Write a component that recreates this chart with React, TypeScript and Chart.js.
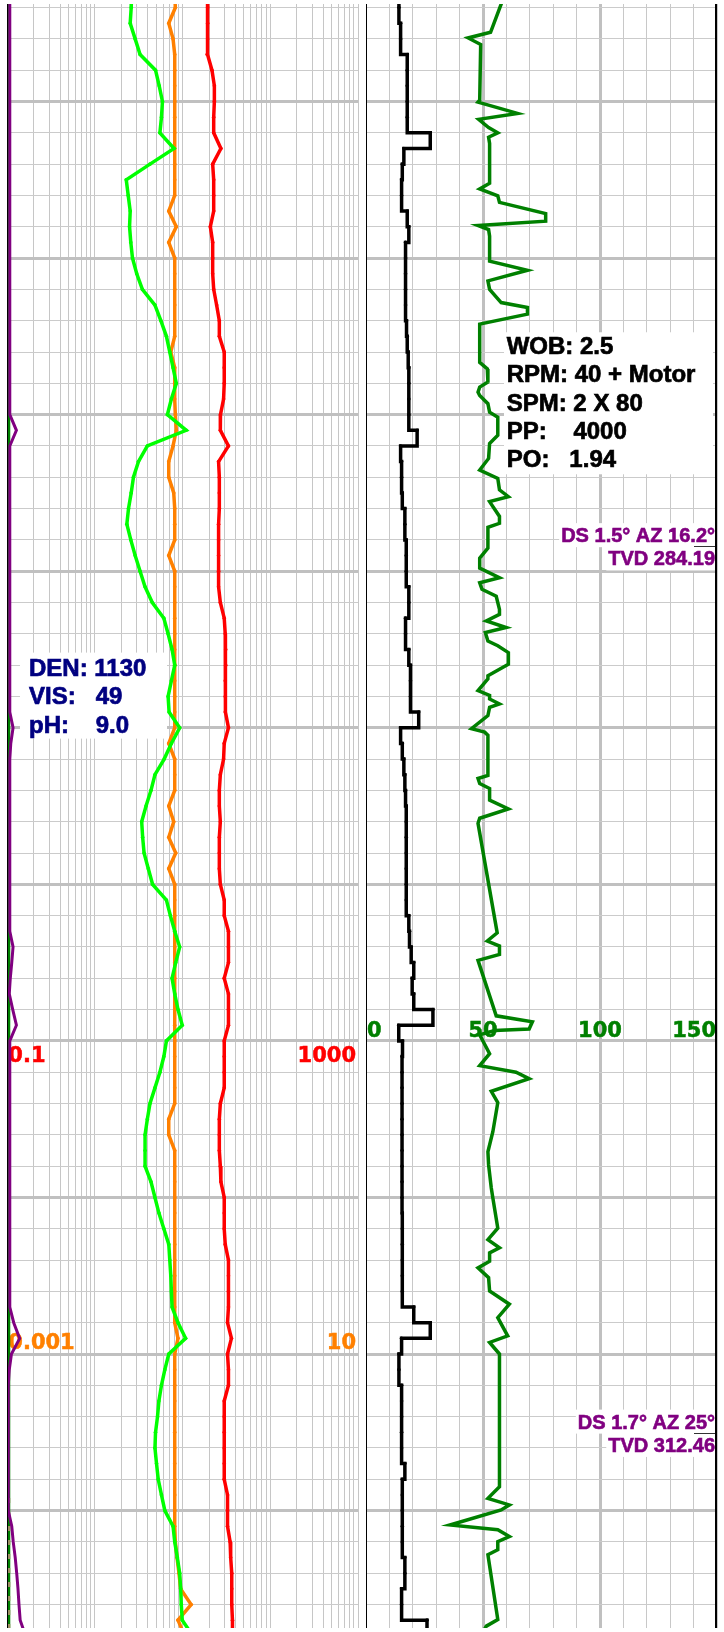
import React, { useEffect, useRef } from "react";
import { Chart, registerables } from "chart.js";

Chart.register(...registerables);

// ---------- depth sampling (m) ----------
const DEPTHS = [
  276.5, 277.0, 277.5, 278.0, 278.5, 279.0, 279.5, 280.0, 280.5, 281.0,
  281.5, 282.0, 282.5, 283.0, 283.5, 284.0, 284.5, 285.0, 285.5, 286.0,
  286.5, 287.0, 287.5, 288.0, 288.5, 289.0, 289.5, 290.0, 290.5, 291.0,
  291.5, 292.0, 292.5, 293.0, 293.5, 294.0, 294.5, 295.0, 295.5, 296.0,
  296.5, 297.0, 297.5, 298.0, 298.5, 299.0, 299.5, 300.0, 300.5, 301.0,
  301.5, 302.0, 302.5, 303.0, 303.5, 304.0, 304.5, 305.0, 305.5, 306.0,
  306.5, 307.0, 307.5, 308.0, 308.5, 309.0, 309.5, 310.0, 310.5, 311.0,
  311.5, 312.0, 312.5, 313.0, 313.5, 314.0, 314.5, 315.0, 315.5, 316.0,
  316.5, 317.0, 317.5, 318.0, 318.5, 319.0, 319.5, 320.0, 320.5, 321.0,
  321.5, 322.0, 322.5, 323.0, 323.5, 324.0, 324.5, 325.0, 325.5, 326.0,
  326.5, 327.0, 327.5, 328.0, 328.5, 329.0,
];
const DEPTH_TOP = 276.886;
const DEPTH_BOTTOM = 328.75;

// ---------- left track (log 0.1 - 1000) ----------
const RED_CURVE = [
  19.3, 19.3, 19.3, 19.3, 19.0, 21.6, 23.0, 23.0, 22.6, 22.6,
  27.3, 22.0, 22.6, 22.6, 22.6, 20.7, 22.0, 22.0, 22.0, 22.6,
  24.4, 26.2, 26.2, 29.8, 29.8, 29.8, 29.3, 27.0, 26.9, 33.3,
  25.7, 26.2, 26.2, 26.2, 25.7, 25.7, 25.7, 25.7, 25.7, 26.9,
  29.8, 30.6, 31.0, 31.0, 30.6, 30.6, 30.6, 33.3, 29.8, 29.3,
  26.9, 26.2, 26.2, 26.9, 26.2, 26.2, 26.2, 26.9, 29.8, 29.8,
  33.3, 33.3, 33.3, 29.8, 33.3, 33.3, 33.3, 29.8, 29.8, 29.8,
  29.8, 26.9, 26.2, 26.2, 26.2, 26.9, 27.3, 29.8, 29.8, 29.8,
  30.6, 33.3, 33.3, 33.3, 33.3, 32.5, 36.0, 32.5, 33.3, 33.3,
  29.8, 29.8, 29.8, 29.8, 29.8, 29.8, 32.5, 32.5, 32.5, 34.8,
  35.3, 36.3, 36.3, 36.3, 37.0, 37.0,
];
const LIME_CURVE = [
  2.63, 2.589, 2.522, 2.873, 3.271, 4.906, 5.402, 5.884, 5.732, 5.502,
  7.977, 4.241, 2.274, 2.394, 2.522, 2.48, 2.562, 2.678, 2.995, 3.472,
  4.831, 5.643, 6.53, 7.134, 7.772, 8.469, 7.436, 6.702, 10.98, 3.955,
  3.13, 2.748, 2.589, 2.413, 2.309, 2.562, 2.873, 3.271, 3.725, 4.503,
  6.102, 6.825, 7.572, 8.124, 7.436, 6.825, 7.005, 9.251, 7.436, 6.152,
  4.831, 4.353, 3.823, 3.41, 3.499, 3.629, 4.059, 4.538, 6.53, 7.245,
  8.124, 9.251, 8.337, 7.572, 8.124, 8.851, 9.897, 6.53, 6.102, 5.502,
  4.831, 4.241, 3.955, 3.725, 3.725, 3.725, 4.353, 4.831, 5.36, 6.102,
  6.95, 7.134, 7.321, 7.436, 7.572, 8.851, 10.81, 6.95, 6.264, 5.732,
  5.36, 5.168, 4.906, 4.831, 5.035, 5.264, 5.732, 6.264, 7.772, 8.124,
  8.692, 9.251, 9.494, 9.643, 9.897, 13.07,
];
// log 0.001 - 10
const ORANGE_CURVE = [
  0.0812, 0.0825, 0.0694, 0.0777, 0.0812, 0.0812, 0.0812, 0.0812, 0.0812, 0.0812,
  0.0812, 0.0812, 0.0812, 0.0812, 0.0694, 0.0847, 0.0694, 0.0812, 0.0812, 0.0812,
  0.0812, 0.0812, 0.0812, 0.0732, 0.0812, 0.0812, 0.0812, 0.0825, 0.0847, 0.0777,
  0.0694, 0.0694, 0.0791, 0.0812, 0.0812, 0.0812, 0.0694, 0.0812, 0.0812, 0.0812,
  0.0812, 0.0812, 0.0812, 0.0812, 0.0812, 0.0812, 0.0812, 0.0812, 0.0694, 0.0812,
  0.0812, 0.0812, 0.0694, 0.0791, 0.0694, 0.0834, 0.0694, 0.0812, 0.0812, 0.0812,
  0.0812, 0.0812, 0.0812, 0.0812, 0.0812, 0.0812, 0.0812, 0.0812, 0.0812, 0.0812,
  0.0812, 0.0812, 0.0694, 0.0694, 0.0812, 0.0812, 0.0812, 0.0812, 0.0812, 0.0812,
  0.0812, 0.0812, 0.0812, 0.0812, 0.0812, 0.0812, 0.0885, 0.0812, 0.0812, 0.0812,
  0.0812, 0.0812, 0.0812, 0.0812, 0.0812, 0.0812, 0.0812, 0.0812, 0.0812, 0.0825,
  0.0862, 0.0908, 0.0949, 0.125, 0.0885, 0.1054,
];
// linear 0 - 100
const PURPLE_CURVE = [
  0.71, 0.71, 0.71, 0.71, 0.71, 0.71, 0.71, 0.71, 0.71, 0.71,
  0.71, 0.71, 0.71, 0.71, 0.71, 0.71, 0.71, 0.71, 0.71, 0.71,
  0.71, 0.71, 0.71, 0.71, 0.71, 0.71, 0.71, 0.71, 2.6, 0.71,
  0.71, 0.71, 0.71, 0.71, 0.71, 0.71, 0.71, 0.71, 0.71, 0.71,
  0.71, 0.71, 0.71, 0.71, 0.71, 0.71, 0.71, 1.64, 0.99, 0.71,
  0.71, 0.71, 0.71, 0.71, 0.71, 0.71, 0.71, 0.71, 0.71, 0.71,
  0.71, 1.64, 1.27, 0.85, 0.56, 1.55, 2.6, 0.71, 0.71, 0.71,
  0.71, 0.71, 0.71, 0.71, 0.71, 0.71, 0.71, 0.71, 0.71, 0.71,
  0.71, 0.71, 0.71, 0.71, 0.71, 1.83, 3.53, 1.18, 0.56, 0.28,
  0.28, 0.28, 0.28, 0.28, 0.28, 0.28, 0.28, 0.28, 1.27, 1.69,
  2.26, 2.68, 3.05, 3.33, 3.67, 5.22,
];
const GAS_DEPTHS = [276.5, 329.0];
const GAS_VALUES = [0.42, 0.42];
const OLIVE_DEPTHS = [324.6, 329.0];
const OLIVE_VALUES = [0.42, 0.42];

// ---------- right track (linear 0 - 150) ----------
const BLACK_CURVE = [
  14.07, 14.07, 14.79, 14.79, 17.62, 17.62, 17.62, 17.62, 17.62, 27.46,
  16.18, 15.51, 15.21, 15.21, 17.62, 18.3, 16.9, 16.9, 16.9, 16.9,
  16.9, 17.32, 17.62, 18.04, 18.3, 18.3, 18.3, 18.3, 21.85, 14.79,
  15.21, 15.21, 15.51, 16.61, 16.61, 17.2, 17.2, 17.2, 18.3, 18.3,
  16.9, 16.9, 18.3, 19.01, 19.01, 19.01, 22.52, 14.79, 15.51, 16.18,
  16.61, 16.9, 17.2, 17.2, 17.2, 17.2, 17.2, 17.2, 17.2, 18.3,
  18.59, 19.31, 20.41, 19.73, 20.41, 28.6, 14.0, 15.6, 15.4, 15.4,
  15.4, 15.4, 15.4, 15.4, 15.4, 15.4, 15.4, 15.4, 15.51, 15.51,
  15.51, 15.51, 15.51, 15.51, 20.41, 27.46, 15.21, 14.07, 14.07, 15.21,
  15.21, 15.21, 15.21, 15.21, 16.61, 15.51, 15.51, 15.51, 15.51, 15.51,
  16.61, 16.61, 15.21, 15.21, 26.07, 26.07,
];
const GREEN_DEPTHS = [
  276.41, 276.89, 277.79, 277.97, 278.18, 279.96, 280.02, 280.38, 280.57, 280.83,
  281.0, 281.14, 281.34, 282.61, 282.79, 283.01, 283.22, 283.58, 283.82, 283.96,
  284.09, 284.3, 285.1, 285.39, 285.73, 286.0, 286.42, 286.58, 286.79, 287.11,
  288.33, 288.54, 288.96, 289.12, 289.28, 289.39, 289.65, 289.92, 290.08, 290.66,
  290.92, 291.4, 291.77, 292.04, 292.4, 292.62, 292.78, 293.25, 293.47, 293.6,
  294.26, 294.58, 294.9, 295.21, 295.37, 295.58, 295.8, 296.22, 296.38, 296.59,
  296.8, 296.96, 297.23, 297.38, 297.6, 297.97, 298.34, 298.44, 298.81, 298.97,
  299.08, 299.24, 299.35, 299.61, 300.03, 300.14, 300.24, 301.52, 301.62, 301.78,
  301.94, 302.31, 302.59, 302.89, 303.05, 306.55, 306.81, 306.97, 307.24, 307.43,
  309.2, 309.39, 309.62, 309.67, 309.81, 310.41, 310.79, 311.0, 311.21, 311.61,
  311.97, 312.9, 313.54, 313.96, 314.7, 315.02, 315.98, 316.35, 316.61, 316.77,
  317.04, 317.25, 317.56, 317.99, 318.41, 318.84, 319.42, 319.63, 320.0, 324.24,
  324.61, 324.82, 324.98, 325.46, 325.61, 325.83, 325.99, 326.25, 326.41, 328.48,
  328.69, 329.16,
];
const GREEN_CURVE = [
  60.42, 57.76, 53.24, 43.65, 49.01, 48.59, 47.87, 64.78, 48.17, 52.39,
  56.32, 52.39, 52.82, 52.82, 48.59, 56.32, 57.04, 76.78, 76.78, 47.87,
  52.39, 52.82, 52.82, 69.0, 52.1, 52.82, 57.76, 69.0, 69.0, 48.59,
  48.59, 51.85, 52.1, 48.59, 47.87, 48.59, 52.1, 52.82, 56.32, 56.32,
  52.82, 52.39, 48.59, 56.32, 57.04, 60.85, 52.82, 57.04, 57.04, 52.1,
  52.1, 48.59, 48.59, 57.04, 48.59, 49.56, 55.65, 57.04, 57.04, 51.42,
  59.87, 51.0, 52.1, 56.32, 60.85, 60.85, 52.1, 52.1, 47.87, 52.82,
  52.82, 57.04, 52.82, 52.1, 45.08, 50.7, 52.1, 52.1, 47.87, 48.59,
  52.82, 52.82, 60.85, 48.59, 47.87, 56.07, 51.85, 57.04, 57.04, 47.87,
  55.65, 71.11, 69.72, 54.93, 48.59, 52.82, 48.59, 64.1, 69.72, 53.54,
  56.32, 54.21, 52.1, 52.39, 53.54, 54.21, 56.32, 52.1, 57.04, 52.82,
  52.82, 47.87, 52.39, 52.82, 61.27, 56.32, 60.55, 52.82, 57.04, 57.04,
  52.1, 61.27, 57.76, 35.92, 56.32, 61.27, 56.32, 56.32, 52.1, 56.32,
  51.42, 47.75,
];

// ---------- grids / tick labels ----------
const LOG_GRID = [
  0.1, 0.2, 0.3, 0.4, 0.5, 0.6, 0.7, 0.8, 0.9,
  1, 2, 3, 4, 5, 6, 7, 8, 9,
  10, 20, 30, 40, 50, 60, 70, 80, 90,
  100, 200, 300, 400, 500, 600, 700, 800, 900, 1000,
];
const LIN_GRID = [0, 10, 20, 30, 40, 50, 60, 70, 80, 90, 100, 110, 120, 130, 140, 150];
const LIN_MAJOR = [50, 100];
const DEPTH_GRID = Array.from({ length: 52 }, (_, i) => 277 + i);
const RED_SCALE_LABELS = ["0.1", "1000"];
const ORANGE_SCALE_LABELS = ["0.001", "10"];
const GREEN_SCALE_TICKS = [0, 50, 100, 150];
const HEADER_DEPTH_A = 310;
const HEADER_DEPTH_B = 320;

// ---------- annotations ----------
const MUD_LINES = ["DEN: 1130", "VIS:   49", "pH:    9.0"];
const MUD_BOX_DEPTH = 297.6;
const DRILL_LINES = ["WOB: 2.5", "RPM: 40 + Motor", "SPM: 2 X 80", "PP:    4000", "PO:   1.94"];
const DRILL_BOX_DEPTH = 287.37;
const SURVEY_DEPTHS = [294.21, 322.52];
const SURVEY_LINES = [
  ["DS 1.5\u00B0 AZ 16.2\u00B0", "TVD 284.19"],
  ["DS 1.7\u00B0 AZ 25\u00B0", "TVD 312.46"],
];

const FONT_BOX = "bold 24px 'Liberation Sans', Arial, sans-serif";
const FONT_SURVEY = "bold 20px 'Liberation Sans', Arial, sans-serif";
const FONT_SCALE = "bold 21px 'DejaVu Sans', Verdana, sans-serif";

const pts = (ys: number[], xs: number[]) => xs.map((x, i) => ({ x, y: ys[i] }));

// heavier text: fill plus a thin stroke of the same colour
const boldText = (ctx: any, t: string, x: number, y: number, w = 0.7) => {
  ctx.fillText(t, x, y);
  ctx.lineWidth = w;
  ctx.strokeStyle = ctx.fillStyle;
  ctx.strokeText(t, x, y);
};

const depthAxis = () => ({
  type: "linear",
  position: "left",
  reverse: true,
  min: DEPTH_TOP,
  max: DEPTH_BOTTOM,
  afterBuildTicks: (axis: any) => {
    axis.ticks = DEPTH_GRID.map((v) => ({ value: v }));
  },
  ticks: { display: false },
  border: { display: false },
  grid: {
    drawTicks: false,
    color: (c: any) => (c.tick && c.tick.value % 5 === 0 ? "#c0c0c0" : "#cbcbcb"),
    lineWidth: (c: any) => (c.tick && c.tick.value % 5 === 0 ? 3 : 1),
  },
});

const lineDs = (data: any, color: string, axis: string, extra: any = {}) => ({
  data,
  xAxisID: axis,
  yAxisID: "y",
  showLine: true,
  borderColor: color,
  backgroundColor: color,
  borderWidth: 3.5,
  pointRadius: 1.8,
  pointBorderWidth: 0,
  pointBackgroundColor: color,
  tension: 0,
  ...extra,
});

const leftDecor = {
  id: "leftDecor",
  beforeDatasetsDraw(chart: any) {
    const { ctx, chartArea: a, scales } = chart;
    const y = scales.y;
    ctx.save();
    const top = y.getPixelForValue(MUD_BOX_DEPTH);
    ctx.fillStyle = "#ffffff";
    ctx.fillRect(a.left + 12.7, top, 147, 86);
    ctx.fillStyle = "#000080";
    ctx.font = FONT_BOX;
    ctx.textAlign = "left";
    ctx.textBaseline = "alphabetic";
    MUD_LINES.forEach((t, i) => boldText(ctx, t, a.left + 21.7, top + 23.2 + i * 28.5));

    ctx.font = FONT_SCALE;
    const yA = y.getPixelForValue(HEADER_DEPTH_A) + 21;
    ctx.fillStyle = "#ff0000";
    ctx.textAlign = "left";
    boldText(ctx, RED_SCALE_LABELS[0], a.left + 1, yA, 0.5);
    ctx.textAlign = "right";
    boldText(ctx, RED_SCALE_LABELS[1], a.right - 2, yA, 0.5);
    const yB = y.getPixelForValue(HEADER_DEPTH_B) - 5;
    ctx.fillStyle = "#ff8000";
    ctx.textAlign = "left";
    boldText(ctx, ORANGE_SCALE_LABELS[0], a.left + 1, yB, 0.5);
    ctx.textAlign = "right";
    boldText(ctx, ORANGE_SCALE_LABELS[1], a.right - 2, yB, 0.5);
    ctx.restore();
  },
  afterDatasetsDraw(chart: any) {
    const { ctx, chartArea: a } = chart;
    ctx.save();
    ctx.fillStyle = "#000000";
    ctx.fillRect(Math.floor(a.left), a.top, 1, a.bottom - a.top);
    ctx.restore();
  },
};

const rightDecor = {
  id: "rightDecor",
  beforeDatasetsDraw(chart: any) {
    const { ctx, chartArea: a, scales } = chart;
    const y = scales.y;
    const x = scales.x;
    ctx.save();
    // drilling parameters box
    const top = y.getPixelForValue(DRILL_BOX_DEPTH);
    ctx.fillStyle = "#ffffff";
    ctx.fillRect(a.left + 138, top, 209, 142);
    ctx.fillStyle = "#000000";
    ctx.font = FONT_BOX;
    ctx.textAlign = "left";
    ctx.textBaseline = "alphabetic";
    DRILL_LINES.forEach((t, i) => boldText(ctx, t, a.left + 140.7, top + 21.7 + i * 28.3));

    // surveys
    ctx.font = FONT_SURVEY;
    SURVEY_DEPTHS.forEach((d, si) => {
      const ty = y.getPixelForValue(d);
      const lines = SURVEY_LINES[si];
      const bases = [ty - 4.3, ty + 19];
      lines.forEach((t, i) => {
        const w = ctx.measureText(t).width;
        ctx.fillStyle = "#ffffff";
        ctx.fillRect(a.right - 2 - w - 2, bases[i] - 19, w + 4, 24);
      });
      ctx.fillStyle = "#800080";
      ctx.textAlign = "right";
      lines.forEach((t, i) => boldText(ctx, t, a.right - 2, bases[i], 0.6));
      ctx.fillStyle = "#333333";
      ctx.fillRect(a.right - 23, Math.round(ty), 23, 1);
    });

    // scale header
    ctx.font = FONT_SCALE;
    ctx.fillStyle = "#008000";
    const yA = y.getPixelForValue(HEADER_DEPTH_A) - 4;
    GREEN_SCALE_TICKS.forEach((v, i) => {
      let px = x.getPixelForValue(v);
      if (i === 0) {
        ctx.textAlign = "left";
        px += 1;
      } else if (i === GREEN_SCALE_TICKS.length - 1) {
        ctx.textAlign = "right";
        px -= 1;
      } else {
        ctx.textAlign = "center";
      }
      boldText(ctx, String(v), px, yA, 0.5);
    });
    ctx.restore();
  },
  afterDatasetsDraw(chart: any) {
    const { ctx, chartArea: a } = chart;
    ctx.save();
    ctx.fillStyle = "#000000";
    ctx.fillRect(Math.round(a.left), a.top, 1, a.bottom - a.top);
    ctx.fillRect(Math.round(a.right) - 2, a.top, 2, a.bottom - a.top);
    ctx.restore();
  },
};

const baseOptions = (padding: any) => ({
  responsive: false,
  animation: false,
  events: [],
  layout: { padding },
  plugins: { legend: { display: false }, tooltip: { enabled: false } },
});

export default function App() {
  const leftRef = useRef<HTMLCanvasElement>(null);
  const rightRef = useRef<HTMLCanvasElement>(null);

  useEffect(() => {
    const left = new Chart(leftRef.current as HTMLCanvasElement, {
      type: "scatter",
      data: {
        datasets: [
          lineDs(pts(DEPTHS, LIME_CURVE), "#00ff00", "x"),
          lineDs(pts(DEPTHS, ORANGE_CURVE), "#ff8000", "xo"),
          lineDs(pts(DEPTHS, RED_CURVE), "#ff0000", "x"),
          lineDs(pts(DEPTHS, PURPLE_CURVE), "#800080", "xp", { pointRadius: 0, borderWidth: 3 }),
          lineDs(pts(OLIVE_DEPTHS, OLIVE_VALUES), "#9a9060", "xp", { pointRadius: 0, borderWidth: 3, borderDash: [5, 9] }),
          lineDs(pts(GAS_DEPTHS, GAS_VALUES), "#008000", "xp", { pointRadius: 0, borderWidth: 3 }),
        ] as any,
      },
      options: {
        ...baseOptions({ left: 7.3, right: 0, top: 0, bottom: 0 }),
        scales: {
          x: {
            type: "logarithmic",
            position: "top",
            min: 0.1,
            max: 1000,
            afterBuildTicks: (axis: any) => {
              axis.ticks = LOG_GRID.map((v) => ({ value: v }));
            },
            ticks: { display: false },
            border: { display: false },
            grid: { drawTicks: false, color: "#c6c6c6", lineWidth: 1 },
          },
          xo: { type: "logarithmic", min: 0.001, max: 10, display: false },
          xp: { type: "linear", min: 0, max: 100, display: false },
          y: depthAxis(),
        },
      } as any,
      plugins: [leftDecor],
    });

    const right = new Chart(rightRef.current as HTMLCanvasElement, {
      type: "scatter",
      data: {
        datasets: [
          lineDs(pts(DEPTHS, BLACK_CURVE), "#000000", "x", { stepped: "after" }),
          lineDs(pts(GREEN_DEPTHS, GREEN_CURVE), "#008000", "x", { pointRadius: 0 }),
        ] as any,
      },
      options: {
        ...baseOptions({ left: 0, right: 7, top: 0, bottom: 0 }),
        scales: {
          x: {
            type: "linear",
            position: "top",
            min: 0,
            max: 150,
            afterBuildTicks: (axis: any) => {
              axis.ticks = LIN_GRID.map((v) => ({ value: v }));
            },
            ticks: { display: false },
            border: { display: false },
            grid: {
              drawTicks: false,
              color: (c: any) => (c.tick && LIN_MAJOR.includes(c.tick.value) ? "#c0c0c0" : "#c8c8c8"),
              lineWidth: (c: any) => (c.tick && LIN_MAJOR.includes(c.tick.value) ? 3 : 1),
            },
          },
          y: depthAxis(),
        },
      } as any,
      plugins: [rightDecor],
    });

    return () => {
      left.destroy();
      right.destroy();
    };
  }, []);

  return (
    <div
      style={{
        position: "absolute",
        left: 0,
        top: 0,
        width: 724,
        height: 1632,
        background: "#ffffff",
        overflow: "hidden",
      }}
    >
      <canvas
        ref={leftRef}
        width={362}
        height={1632}
        style={{ position: "absolute", left: 0, top: 0, width: 362, height: 1632 }}
      />
      <canvas
        ref={rightRef}
        width={362}
        height={1632}
        style={{ position: "absolute", left: 362, top: 0, width: 362, height: 1632 }}
      />
    </div>
  );
}
